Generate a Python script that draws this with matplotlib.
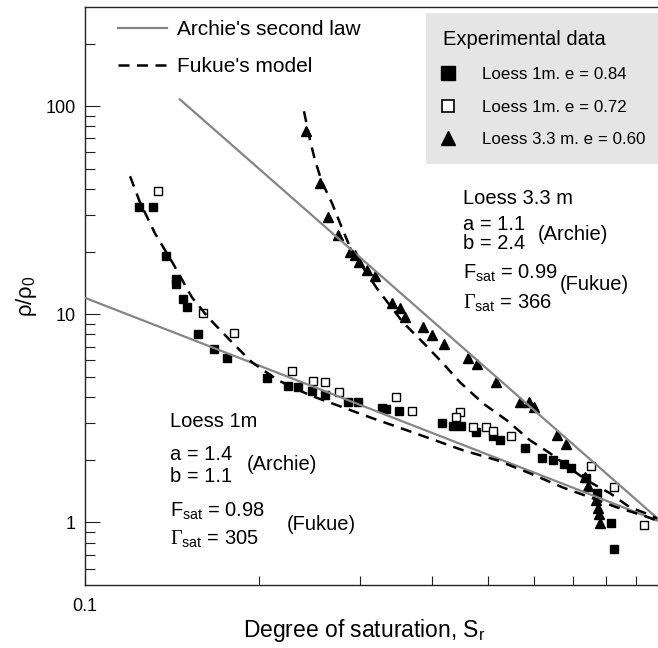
import matplotlib
matplotlib.use("Agg")
import matplotlib.pyplot as plt
from matplotlib.ticker import FixedLocator, FixedFormatter, NullFormatter
from matplotlib.lines import Line2D

plt.rcParams['font.family'] = ['Liberation Sans', 'DejaVu Sans']
plt.rcParams['mathtext.fontset'] = 'custom'
plt.rcParams['mathtext.rm'] = 'Liberation Sans'
plt.rcParams['mathtext.it'] = 'Liberation Sans:italic'
plt.rcParams['mathtext.bf'] = 'Liberation Sans:bold'
plt.rcParams['mathtext.sf'] = 'Liberation Serif'

# ---------------- data ----------------
# Loess 1m, e = 0.84 (filled squares)
sr_1m_084 = [0.124, 0.131, 0.138, 0.144, 0.144, 0.148, 0.150, 0.157, 0.167, 0.176,
             0.207, 0.225, 0.234, 0.247, 0.261, 0.286, 0.297, 0.327, 0.333, 0.350,
             0.415, 0.435, 0.448, 0.476, 0.510, 0.524, 0.579, 0.619, 0.646, 0.676,
             0.695, 0.738, 0.771, 0.816, 0.827]
rho_1m_084 = [32.8, 32.8, 19.0, 14.8, 14.0, 11.8, 10.8, 8.0, 6.8, 6.2,
              4.94, 4.54, 4.47, 4.26, 4.08, 3.79, 3.79, 3.53, 3.49, 3.42,
              3.01, 2.91, 2.91, 2.71, 2.59, 2.50, 2.28, 2.04, 1.99, 1.90,
              1.82, 1.63, 1.38, 0.99, 0.742]

# Loess 1m, e = 0.72 (open squares)
sr_1m_072 = [0.134, 0.160, 0.181, 0.228, 0.248, 0.261, 0.276, 0.346, 0.369, 0.447,
             0.440, 0.470, 0.495, 0.510, 0.548, 0.753, 0.827, 0.929]
rho_1m_072 = [39.2, 10.1, 8.15, 5.34, 4.80, 4.74, 4.22, 4.00, 3.42, 3.39,
              3.20, 2.88, 2.88, 2.75, 2.61, 1.86, 1.48, 0.976]

# Loess 3.3 m, e = 0.60 (triangles)
sr_33m_060 = [0.242, 0.255, 0.264, 0.275, 0.288, 0.294, 0.298, 0.308, 0.318, 0.340,
              0.352, 0.358, 0.385, 0.400, 0.419, 0.461, 0.478, 0.516, 0.568, 0.587,
              0.601, 0.659, 0.681, 0.735, 0.743, 0.767, 0.775, 0.778, 0.781]
rho_33m_060 = [76.1, 42.8, 29.4, 24.0, 19.9, 19.2, 17.9, 16.3, 15.2, 11.3,
               10.7, 9.76, 8.71, 7.93, 7.23, 6.18, 5.79, 4.71, 3.80, 3.80,
               3.59, 2.64, 2.37, 1.65, 1.50, 1.28, 1.17, 1.10, 0.99]

# Archie's second law (straight lines in log-log space): end points
archie_1m_sr = [0.1, 1.0]
archie_1m_rho = [12.0, 1.0]
archie_33m_sr = [0.146, 1.0]
archie_33m_rho = [108.0, 1.0]

# Fukue's model curves
fukue_1m_sr = [0.1197, 0.1245, 0.1322, 0.1420, 0.1532, 0.1634, 0.1784, 0.1947, 0.2160,
               0.2455, 0.2800, 0.3156, 0.3614, 0.4043, 0.4521, 0.5176, 0.5906, 0.6736,
               0.7503, 0.8356, 0.9270, 0.9802]
fukue_1m_rho = [46.1, 34.6, 24.5, 17.6, 12.07, 9.67, 7.50, 5.88, 4.82,
                4.08, 3.57, 3.16, 2.77, 2.48, 2.22, 1.99, 1.72, 1.47,
                1.32, 1.18, 1.08, 1.02]
fukue_33m_sr = [0.2396, 0.2455, 0.2504, 0.2575, 0.2680, 0.2767, 0.2880, 0.3032, 0.3207,
                0.3557, 0.3852, 0.4173, 0.4467, 0.4896, 0.5387, 0.5906, 0.6395, 0.6926,
                0.7413, 0.8127, 0.8800, 0.9419, 0.9802]
fukue_33m_rho = [94.6, 68.6, 55.0, 43.1, 34.2, 27.4, 21.0, 16.8, 13.3,
                 9.15, 7.33, 5.81, 4.71, 3.73, 3.09, 2.48, 2.15, 1.82,
                 1.59, 1.38, 1.18, 1.10, 1.045]

x_major = [0.1]
x_major_labels = ['0.1']
x_minor = [0.2, 0.3, 0.4, 0.5, 0.6, 0.7, 0.8, 0.9]
y_major = [1, 10, 100]
y_major_labels = ['1', '10', '100']
y_minor = [0.6, 0.7, 0.8, 0.9, 2, 3, 4, 5, 6, 7, 8, 9,
           20, 30, 40, 50, 60, 70, 80, 90, 200]

# ---------------- figure ----------------
W, H = 658, 648
fig = plt.figure(figsize=(W / 100, H / 100), dpi=100)
ax = fig.add_axes([85 / W, 63 / H, 577 / W, 578 / H])
ax.set_xscale('log')
ax.set_yscale('log')
ax.set_xlim(0.1, 1.0)
ax.set_ylim(0.5, 300)

GRAY = '#858585'
dash = (0, (4.4, 3.0))

ax.plot(sr_1m_084, rho_1m_084, linestyle='none', marker='s', ms=6.2,
        mfc='black', mec='black', zorder=2)
ax.plot(sr_1m_072, rho_1m_072, linestyle='none', marker='s', ms=6.0,
        mfc='white', mec='black', mew=1.0, zorder=2)
ax.plot(sr_33m_060, rho_33m_060, linestyle='none', marker='^', ms=7.0,
        mfc='black', mec='black', zorder=2)

l_archie, = ax.plot(archie_1m_sr, archie_1m_rho, color=GRAY, lw=1.6, zorder=3,
                    label="Archie's second law")
ax.plot(archie_33m_sr, archie_33m_rho, color=GRAY, lw=1.6, zorder=3)
l_fukue, = ax.plot(fukue_1m_sr, fukue_1m_rho, color='black', lw=1.8, ls=dash,
                   zorder=4, label="Fukue's model")
ax.plot(fukue_33m_sr, fukue_33m_rho, color='black', lw=1.8, ls=dash, zorder=4)

# axes styling
ax.spines['right'].set_visible(False)
for s in ('left', 'bottom', 'top'):
    ax.spines[s].set_linewidth(1.0)
    ax.spines[s].set_color('#222222')

ax.xaxis.set_major_locator(FixedLocator(x_major))
ax.xaxis.set_major_formatter(FixedFormatter(x_major_labels))
ax.xaxis.set_minor_locator(FixedLocator(x_minor))
ax.xaxis.set_minor_formatter(NullFormatter())
ax.yaxis.set_major_locator(FixedLocator(y_major))
ax.yaxis.set_major_formatter(FixedFormatter(y_major_labels))
ax.yaxis.set_minor_locator(FixedLocator(y_minor))
ax.yaxis.set_minor_formatter(NullFormatter())

ax.tick_params(which='both', direction='in', width=0.8, color='#222222')
ax.tick_params(axis='y', which='major', length=10.8, pad=6.5, labelsize=13)
ax.tick_params(axis='y', which='minor', length=7.2)
ax.tick_params(axis='x', which='both', length=6.5, pad=9.5, labelsize=13)

ax.set_xlabel('Degree of saturation, S$_{\\mathrm{r}}$', fontsize=16.5)
ax.xaxis.set_label_coords((364 - 85) / 577, (585 - 630) / 578)
ax.xaxis.label.set_va('center')
ax.set_ylabel('ρ/ρ$_{\\mathrm{0}}$', fontsize=16)
ax.yaxis.set_label_coords((27 - 85) / 577, 0.5)
ax.yaxis.label.set_va('center')

# legends
leg1 = ax.legend(handles=[l_archie, l_fukue], loc='upper left',
                 bbox_to_anchor=(118 / W, 1 - 20 / H), bbox_transform=fig.transFigure,
                 frameon=False, fontsize=15, handlelength=2.35, handletextpad=0.48,
                 labelspacing=0.88, borderpad=0, borderaxespad=0)
ax.add_artist(leg1)

h_f = Line2D([], [], linestyle='none', marker='s', ms=10, mfc='black', mec='black')
h_o = Line2D([], [], linestyle='none', marker='s', ms=8.5, mfc='white', mec='black', mew=1.2)
h_t = Line2D([], [], linestyle='none', marker='^', ms=10.5, mfc='black', mec='black')
leg2 = ax.legend(handles=[h_f, h_o, h_t],
                 labels=['Loess 1m. e = 0.84', 'Loess 1m. e = 0.72', 'Loess 3.3 m. e = 0.60'],
                 title='Experimental data', title_fontsize=14.5, alignment='left',
                 loc='upper left', bbox_to_anchor=(426 / W, 1 - 13 / H),
                 bbox_transform=fig.transFigure, frameon=True, fancybox=False,
                 facecolor='#e5e5e5', edgecolor='none', framealpha=1, fontsize=12.2,
                 borderpad=1.0, handlelength=0.58, handletextpad=1.7,
                 labelspacing=1.05, borderaxespad=0)


def axpos(px, py):
    return ((px - 85) / 577, (585 - py) / 578)


FS = 14.5
def put(px, py, s):
    ax.text(*axpos(px, py), s, transform=ax.transAxes, fontsize=FS,
            ha='left', va='baseline')

# Loess 3.3 m annotation
put(463, 204, 'Loess 3.3 m')
put(463, 230, 'a = 1.1')
put(463, 249, 'b = 2.4')
put(538, 240, '(Archie)')
put(463, 279, 'F$_{\\mathrm{sat}}$ = 0.99')
put(463, 309, '$\\mathsf{\\Gamma}_{\\mathrm{sat}}$ = 366')
put(560, 290, '(Fukue)')

# Loess 1m annotation
put(170, 427, 'Loess 1m')
put(170, 460, 'a = 1.4')
put(170, 482, 'b = 1.1')
put(247, 470, '(Archie)')
put(170, 517, 'F$_{\\mathrm{sat}}$ = 0.98')
put(170, 545, '$\\mathsf{\\Gamma}_{\\mathrm{sat}}$ = 305')
put(287, 530, '(Fukue)')

fig.savefig('out.png', dpi=100)
